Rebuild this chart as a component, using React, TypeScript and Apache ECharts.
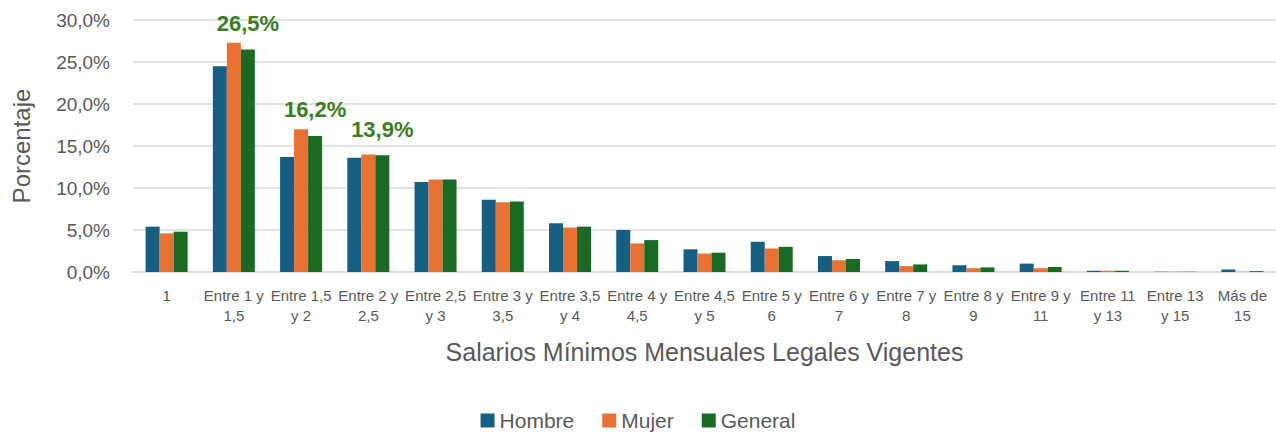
import React, { useEffect, useRef } from "react";
import * as echarts from "echarts";

const categories = [
  "1",
  "Entre 1 y\n1,5",
  "Entre 1,5\ny 2",
  "Entre 2 y\n2,5",
  "Entre 2,5\ny 3",
  "Entre 3 y\n3,5",
  "Entre 3,5\ny 4",
  "Entre 4 y\n4,5",
  "Entre 4,5\ny 5",
  "Entre 5 y\n6",
  "Entre 6 y\n7",
  "Entre 7 y\n8",
  "Entre 8 y\n9",
  "Entre 9 y\n11",
  "Entre 11\ny 13",
  "Entre 13\ny 15",
  "Más de\n15",
];

const hombre = [5.4, 24.5, 13.7, 13.6, 10.7, 8.6, 5.8, 5.0, 2.7, 3.6, 1.9, 1.3, 0.8, 1.0, 0.15, 0.03, 0.3];
const mujer = [4.6, 27.3, 17.0, 14.0, 11.0, 8.3, 5.3, 3.4, 2.2, 2.8, 1.4, 0.7, 0.45, 0.45, 0.15, 0.03, 0.02];
const general = [4.8, 26.5, 16.2, 13.9, 11.0, 8.4, 5.4, 3.8, 2.3, 3.0, 1.55, 0.9, 0.55, 0.6, 0.15, 0.03, 0.1];
const labeledIdx = [1, 2, 3];

const yTicks = { min: 0, max: 30, interval: 5 };

const FONT = "'Liberation Sans', Arial, sans-serif";
const GRAY = "#595959";

export default function App() {
  const ref = useRef<HTMLDivElement>(null);
  useEffect(() => {
    document.body.style.margin = "0";
    if (!ref.current) return;
    const chart = echarts.init(ref.current, null, { renderer: "svg" });
    const fmt = (v: number) => v.toFixed(1).replace(".", ",") + "%";
    chart.setOption({
      animation: false,
      textStyle: { fontFamily: FONT },
      grid: { left: 133, right: 0, top: 20, bottom: 160, containLabel: false },
      legend: {
        top: 410,
        left: "center",
        padding: 0,
        itemWidth: 14,
        itemHeight: 14,
        itemGap: 28,
        icon: "rect",
        textStyle: { fontSize: 21, color: GRAY, fontFamily: FONT },
        data: ["Hombre", "Mujer", "General"],
      },
      xAxis: {
        type: "category",
        data: categories,
        axisLine: { lineStyle: { color: "#d9d9d9", width: 1.5 } },
        axisTick: { show: false },
        axisLabel: {
          interval: 0,
          fontSize: 15,
          color: GRAY,
          lineHeight: 20,
          margin: 13,
          fontFamily: FONT,
        },
        name: "Salarios Mínimos Mensuales Legales Vigentes",
        nameLocation: "middle",
        nameGap: 67,
        nameTextStyle: { fontSize: 25, color: GRAY, fontFamily: FONT },
      },
      yAxis: {
        type: "value",
        min: yTicks.min,
        max: yTicks.max,
        interval: yTicks.interval,
        axisLine: { show: false },
        axisTick: { show: false },
        splitLine: { lineStyle: { color: "#d9d9d9", width: 1.5 } },
        axisLabel: {
          fontSize: 19,
          color: GRAY,
          margin: 23,
          fontFamily: FONT,
          formatter: (v: number) => fmt(v),
        },
        name: "Porcentaje",
        nameLocation: "middle",
        nameGap: 100,
        nameRotate: 90,
        nameTextStyle: { fontSize: 24, color: GRAY, fontFamily: FONT },
      },
      series: [
        {
          name: "Hombre",
          type: "bar",
          data: hombre,
          barWidth: 14,
          barGap: "0%",
          itemStyle: { color: "#156082" },
        },
        {
          name: "Mujer",
          type: "bar",
          data: mujer,
          barWidth: 14,
          barGap: "0%",
          itemStyle: { color: "#E97132" },
        },
        {
          name: "General",
          type: "bar",
          barWidth: 14,
          barGap: "0%",
          itemStyle: { color: "#196B24" },
          data: general.map((v, i) =>
            labeledIdx.includes(i)
              ? {
                  value: v,
                  label: {
                    show: true,
                    position: "top",
                    distance: 15,
                    fontSize: 22,
                    fontWeight: "bold",
                    color: "#3B7D23",
                    fontFamily: FONT,
                    formatter: (p: any) => fmt(p.value),
                  },
                }
              : v
          ),
        },
      ],
    });
    return () => chart.dispose();
  }, []);
  return <div ref={ref} style={{ width: 1276, height: 432 }} />;
}
